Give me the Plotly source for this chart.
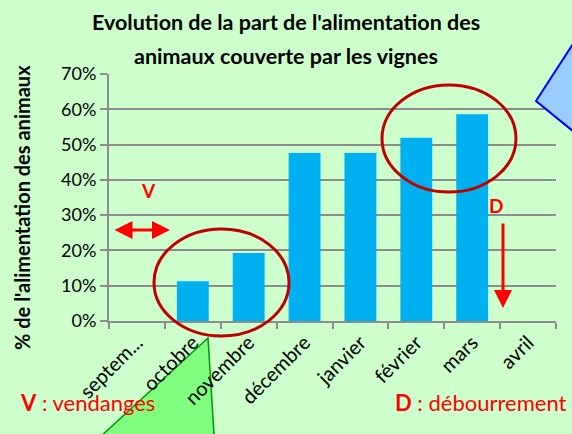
import plotly.graph_objects as go

months = ["septem...", "octobre", "novembre", "décembre", "janvier", "février", "mars", "avril"]
share = [0.0, 0.113, 0.193, 0.476, 0.476, 0.519, 0.586, 0.0]
y_ticks = [0, 0.1, 0.2, 0.3, 0.4, 0.5, 0.6, 0.7]
y_tick_labels = ["0%", "10%", "20%", "30%", "40%", "50%", "60%", "70%"]

W, H = 572, 434
L, R, T, B = 109, 556, 74, 321
FONT = "Lato"
RED = "#FF0000"
DARKRED = "#C00000"
GRID = "#8C8C8C"
BG = "#CCFFCC"


def px(x):
    return (x - L) / (R - L)


def py(y):
    return (B - y) / (B - T)


fig = go.Figure(
    go.Bar(x=months, y=share, marker=dict(color="#00B0F0", line=dict(width=0)), width=0.57)
)

shapes = []
# blue polygon top-right (partially off canvas)
shapes.append(dict(
    type="path", xref="paper", yref="paper",
    path=f"M {px(536)},{py(101)} L {px(582)},{py(30)} L {px(640)},{py(80)} L {px(596)},{py(150)} Z",
    fillcolor="#99CCFF", line=dict(color="#0000FF", width=2), layer="above"))
# green triangle bottom
shapes.append(dict(
    type="path", xref="paper", yref="paper",
    path=f"M {px(208)},{py(338)} L {px(86)},{py(450)} L {px(215)},{py(450)} Z",
    fillcolor="#80FF80", line=dict(color="#009900", width=1.5), layer="below"))
# red ellipses
shapes.append(dict(type="circle", xref="paper", yref="paper",
                   x0=px(154), x1=px(289), y0=py(336), y1=py(229),
                   line=dict(color=DARKRED, width=3), layer="above"))
shapes.append(dict(type="circle", xref="paper", yref="paper",
                   x0=px(382), x1=px(516), y0=py(192), y1=py(85),
                   line=dict(color=DARKRED, width=3), layer="above"))

annotations = [
    dict(text="<b>Evolution de la part de l'alimentation des</b>", x=px(286), y=py(22),
         xref="paper", yref="paper", showarrow=False, font=dict(family=FONT, size=21.5, color="#000"),
         xanchor="center", yanchor="middle"),
    dict(text="<b>animaux couverte par les vignes</b>", x=px(286), y=py(56),
         xref="paper", yref="paper", showarrow=False, font=dict(family=FONT, size=21.5, color="#000"),
         xanchor="center", yanchor="middle"),
    dict(text="<b>% de l'alimentation des animaux</b>", x=px(22), y=py(208), textangle=-90,
         xref="paper", yref="paper", showarrow=False, font=dict(family=FONT, size=20, color="#000"),
         xanchor="center", yanchor="middle"),
    dict(text="<b>V</b>", x=px(139), y=py(190), xref="paper", yref="paper", showarrow=False,
         font=dict(family=FONT, size=19, color=RED)),
    dict(text="<b>D</b>", x=px(505), y=py(205), xref="paper", yref="paper", showarrow=False,
         font=dict(family=FONT, size=19, color=RED)),
    dict(text="", x=px(170), y=py(230), xref="paper", yref="paper", showarrow=True,
         ax=-57, ay=0, arrowside="end+start", arrowhead=2, arrowsize=1.2, arrowwidth=3,
         arrowcolor=RED),
    dict(text="", x=px(503), y=py(308), xref="paper", yref="paper", showarrow=True,
         ax=0, ay=-86, arrowhead=2, arrowsize=1.2, arrowwidth=3, arrowcolor=RED),
    dict(text="<b>V</b> : vendanges", x=px(18), y=py(418), xref="paper", yref="paper",
         showarrow=False, xanchor="left", font=dict(family=FONT, size=22, color=RED)),
    dict(text="<b>D</b> : débourrement", x=px(569), y=py(418), xref="paper", yref="paper",
         showarrow=False, xanchor="right", font=dict(family=FONT, size=22, color=RED)),
]

fig.update_layout(
    width=W, height=H,
    margin=dict(l=L, r=W - R, t=T, b=H - B, pad=0),
    paper_bgcolor=BG, plot_bgcolor=BG,
    showlegend=False,
    shapes=shapes, annotations=annotations,
    bargap=0.43,
)
fig.update_xaxes(
    type="category", tickangle=-45, tickson="boundaries",
    ticks="outside", ticklen=6, tickwidth=2, tickcolor=GRID,
    showline=True, linecolor=GRID, linewidth=2, showgrid=False,
    tickfont=dict(family=FONT, size=20, color="#000"),
    fixedrange=True,
)
fig.update_yaxes(
    range=[0, 0.7], tickvals=y_ticks, ticktext=y_tick_labels,
    ticks="outside", ticklen=7, tickwidth=2, tickcolor=GRID,
    showline=True, linecolor=GRID, linewidth=2,
    showgrid=True, gridcolor=GRID, gridwidth=2, zeroline=False,
    tickfont=dict(family=FONT, size=18, color="#000"),
    fixedrange=True,
)

fig.write_html(
    "out.html",
    config={"displayModeBar": False},
    post_script="document.body.style.margin='0';document.body.style.padding='0';",
)
